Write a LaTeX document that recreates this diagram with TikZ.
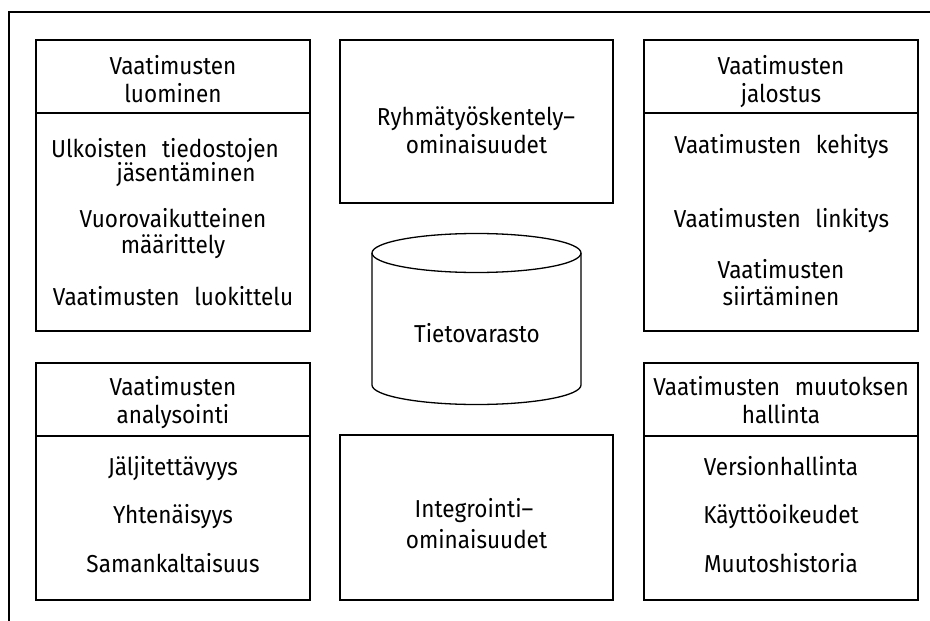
\documentclass[tikz,border=0pt]{standalone}
\usepackage{fontspec}
\setmainfont{Fira Sans}[FakeStretch=0.92]
\newcommand{\wgap}{\hspace{0.6em}}
\begin{document}
\begin{tikzpicture}[x=1pt, y=-1pt,
  frame/.style={line width=1.3pt, line cap=rect},
  box/.style={draw, line width=1.3pt, inner sep=0pt, outer sep=0pt},
  rule/.style={line width=1.3pt},
  lbl/.style={inner sep=0pt, anchor=base, font=\fontsize{24.5}{28}\selectfont}]
\useasboundingbox (0,0) rectangle (930,621);

% outer frame (top and left edges)
\draw[frame] (9,621) -- (9,12) -- (931,12);

% boxes
\node[box, minimum width=274pt, minimum height=291pt] (luo) at (173,185.5) {};
\node[box, minimum width=273pt, minimum height=163pt] (ryh) at (476.5,121.5) {};
\node[box, minimum width=274pt, minimum height=291pt] (jal) at (781,185.5) {};
\node[box, minimum width=274pt, minimum height=237pt] (ana) at (173,481.5) {};
\node[box, minimum width=273pt, minimum height=165pt] (int) at (476.5,517.5) {};
\node[box, minimum width=274pt, minimum height=237pt] (muu) at (781,481.5) {};

% header dividers
\draw[rule] (luo.west |- 0,113) -- (luo.east |- 0,113);
\draw[rule] (jal.west |- 0,113) -- (jal.east |- 0,113);
\draw[rule] (ana.west |- 0,436) -- (ana.east |- 0,436);
\draw[rule] (muu.west |- 0,436) -- (muu.east |- 0,436);

% data store cylinder
\draw[rule] (372,253) -- (372,385)
  arc[start angle=180, end angle=0, x radius=104.5, y radius=19.5] -- (581,253);
\draw[rule] (476.5,253) ellipse[x radius=104.5, y radius=19.5];
\node[lbl] (tv) at (477,342) {Tietovarasto};

% requirement creation
\node[lbl] (luoH1) at (173,74) {Vaatimusten};
\node[lbl] (luoH2) at (173,102) {luominen};
\node[lbl] (luoA1) at (165,157) {Ulkoisten\wgap tiedostojen};
\node[lbl] (luoA2) at (186,181) {jäsentäminen};
\node[lbl] (luoB1) at (173,227) {Vuorovaikutteinen};
\node[lbl] (luoB2) at (173,253) {määrittely};
\node[lbl] (luoC) at (173,305) {Vaatimusten\wgap luokittelu};

% collaboration
\node[lbl] (ryh1) at (476,125) {Ryhmätyöskentely–};
\node[lbl] (ryh2) at (476.5,153) {ominaisuudet};

% requirement refinement
\node[lbl] (jalH1) at (781,74) {Vaatimusten};
\node[lbl] (jalH2) at (781,102) {jalostus};
\node[lbl] (jalA) at (781.5,153) {Vaatimusten\wgap kehitys};
\node[lbl] (jalB) at (781.5,227) {Vaatimusten\wgap linkitys};
\node[lbl] (jalC1) at (781,278) {Vaatimusten};
\node[lbl] (jalC2) at (781,305) {siirtäminen};

% requirement analysis
\node[lbl] (anaH1) at (173,395) {Vaatimusten};
\node[lbl] (anaH2) at (173,423) {analysointi};
\node[lbl] (anaA) at (173,475) {Jäljitettävyys};
\node[lbl] (anaB) at (173,523) {Yhtenäisyys};
\node[lbl] (anaC) at (173,572) {Samankaltaisuus};

% integration
\node[lbl] (int1) at (474,517) {Integrointi–};
\node[lbl] (int2) at (476.5,548) {ominaisuudet};

% change management
\node[lbl] (muuH1) at (781,395) {Vaatimusten\wgap muutoksen};
\node[lbl] (muuH2) at (781,423) {hallinta};
\node[lbl] (muuA) at (781,475) {Versionhallinta};
\node[lbl] (muuB) at (781,523) {Käyttöoikeudet};
\node[lbl] (muuC) at (781,572) {Muutoshistoria};
\end{tikzpicture}
\end{document}
